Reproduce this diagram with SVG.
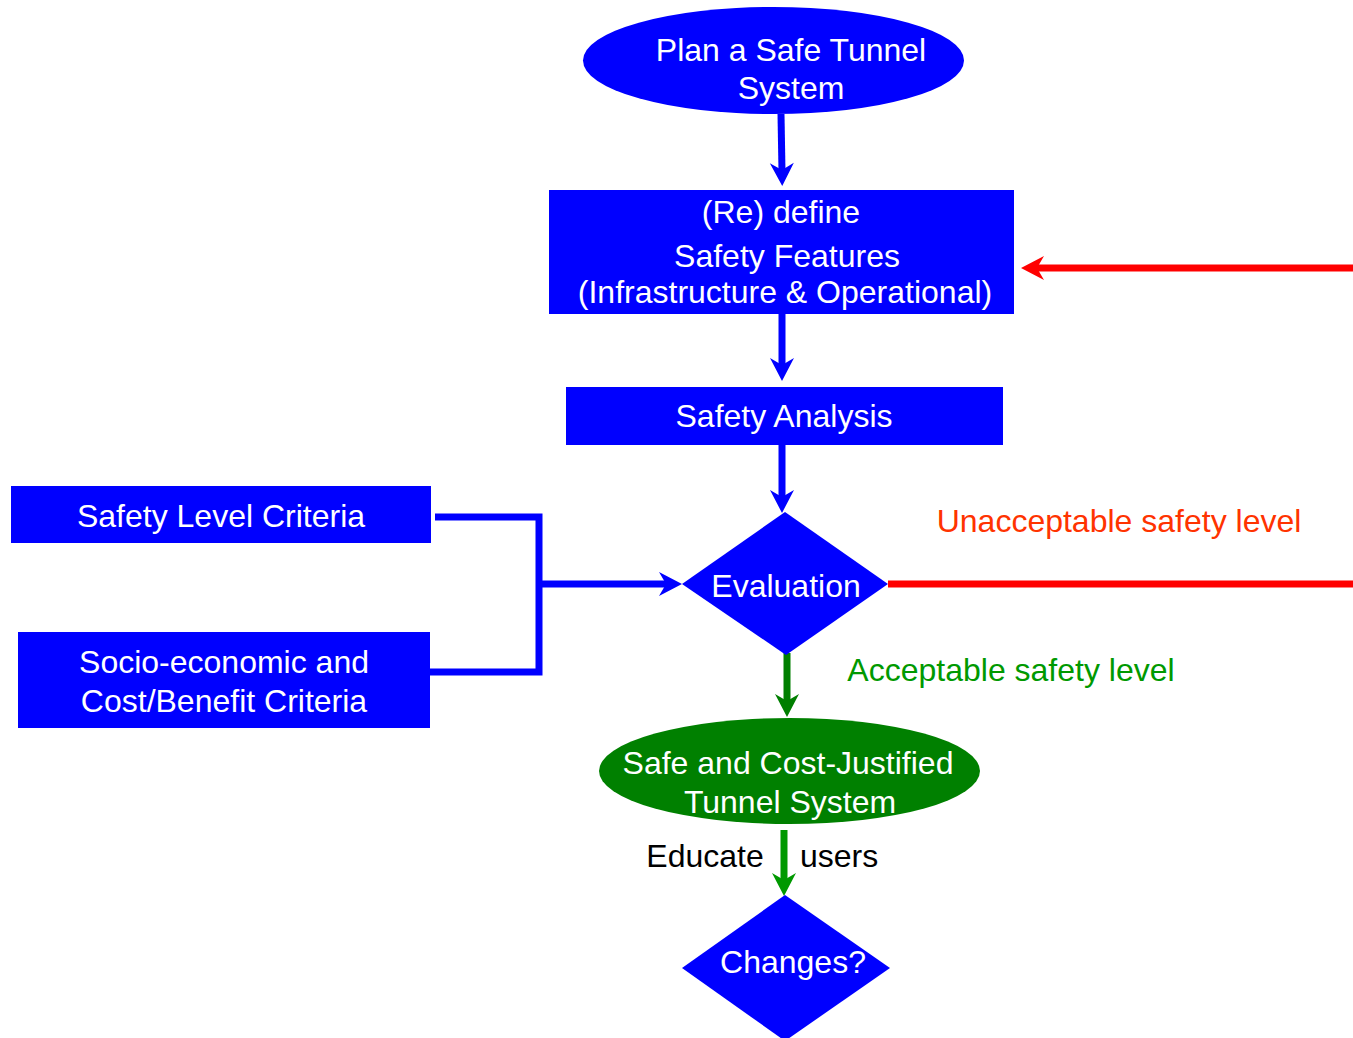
<svg xmlns="http://www.w3.org/2000/svg" width="1353" height="1038" viewBox="0 0 1353 1038">
  <style>
    .lbl { font-family: "Liberation Sans", Arial, sans-serif; font-size: 32px; text-anchor: middle; }
    .w { fill: #ffffff; }
    .blue { fill: #0000ff; }
    .darkgreen { fill: #008000; }
    .conn { fill: none; stroke-width: 7; stroke-linejoin: miter; }
  </style>
  <defs>
    <!-- stealth arrowheads, one per connector colour -->
    <marker id="ah-blue" markerUnits="userSpaceOnUse" viewBox="0 0 24 24" markerWidth="24" markerHeight="24" refX="9" refY="12" orient="auto" overflow="visible">
      <path d="M0,0 L23,12 L0,24 L7,12 Z" fill="#0000ff"/>
    </marker>
    <marker id="ah-red" markerUnits="userSpaceOnUse" viewBox="0 0 24 24" markerWidth="24" markerHeight="24" refX="9" refY="12" orient="auto" overflow="visible">
      <path d="M0,0 L23,12 L0,24 L7,12 Z" fill="#ff0000"/>
    </marker>
    <marker id="ah-green" markerUnits="userSpaceOnUse" viewBox="0 0 24 24" markerWidth="24" markerHeight="24" refX="9" refY="12" orient="auto" overflow="visible">
      <path d="M0,0 L23,12 L0,24 L7,12 Z" fill="#007f00"/>
    </marker>
    <marker id="ah-green2" markerUnits="userSpaceOnUse" viewBox="0 0 24 24" markerWidth="24" markerHeight="24" refX="9" refY="12" orient="auto" overflow="visible">
      <path d="M0,0 L23,12 L0,24 L7,12 Z" fill="#009900"/>
    </marker>
  </defs>

  <rect x="0" y="0" width="1353" height="1038" fill="#ffffff"/>

  <g id="connectors">
    <line class="conn" x1="781" y1="114" x2="782" y2="172" stroke="#0000ff" marker-end="url(#ah-blue)"/>
    <line class="conn" x1="782" y1="314" x2="782" y2="367" stroke="#0000ff" marker-end="url(#ah-blue)"/>
    <line class="conn" x1="782" y1="445" x2="782" y2="499" stroke="#0000ff" marker-end="url(#ah-blue)"/>
    <path class="conn" d="M435,517 H539 V672 H430" stroke="#0000ff"/>
    <line class="conn" x1="539" y1="584" x2="668" y2="584" stroke="#0000ff" marker-end="url(#ah-blue)"/>
    <line class="conn" x1="888" y1="584" x2="1353" y2="584" stroke="#ff0000"/>
    <line class="conn" x1="1353" y1="268" x2="1035" y2="268" stroke="#ff0000" marker-end="url(#ah-red)"/>
    <line class="conn" x1="787" y1="653" x2="787" y2="703" stroke="#007f00" marker-end="url(#ah-green)"/>
    <line class="conn" x1="784" y1="830" x2="784" y2="882" stroke="#009900" marker-end="url(#ah-green2)"/>
    <text class="lbl" x="1119" y="532" fill="#ff3300">Unacceptable safety level</text>
    <text class="lbl" x="1011" y="681" fill="#009900">Acceptable safety level</text>
    <text class="lbl" x="705" y="867" fill="#000000">Educate</text>
    <text class="lbl" x="839" y="867" fill="#000000">users</text>
  </g>

  <g id="plan">
    <ellipse cx="773.5" cy="60.5" rx="190.5" ry="53.5" class="blue"/>
    <text class="lbl w" x="791" y="61">Plan a Safe Tunnel</text>
    <text class="lbl w" x="791" y="99">System</text>
  </g>

  <g id="define">
    <rect x="549" y="190" width="465" height="124" class="blue"/>
    <text class="lbl w" x="781" y="223">(Re) define</text>
    <text class="lbl w" x="787" y="267">Safety Features</text>
    <text class="lbl w" x="785" y="303">(Infrastructure &amp; Operational)</text>
  </g>

  <g id="analysis">
    <rect x="566" y="387" width="437" height="58" class="blue"/>
    <text class="lbl w" x="784" y="427">Safety Analysis</text>
  </g>

  <g id="level-criteria">
    <rect x="11" y="486" width="420" height="57" class="blue"/>
    <text class="lbl w" x="221" y="527">Safety Level Criteria</text>
  </g>

  <g id="cost-criteria">
    <rect x="18" y="632" width="412" height="96" class="blue"/>
    <text class="lbl w" x="224" y="673">Socio-economic and</text>
    <text class="lbl w" x="224" y="712">Cost/Benefit Criteria</text>
  </g>

  <g id="evaluation">
    <polygon points="785,512 888,584 786,655 682,584" class="blue"/>
    <text class="lbl w" x="786" y="597">Evaluation</text>
  </g>

  <g id="result">
    <ellipse cx="789.5" cy="771" rx="190.5" ry="53" class="darkgreen"/>
    <text class="lbl w" x="788" y="774">Safe and Cost-Justified</text>
    <text class="lbl w" x="790" y="813">Tunnel System</text>
  </g>

  <g id="changes">
    <polygon points="785,895 890,968 785,1041 682,968" class="blue"/>
    <text class="lbl w" x="793" y="973">Changes?</text>
  </g>
</svg>
